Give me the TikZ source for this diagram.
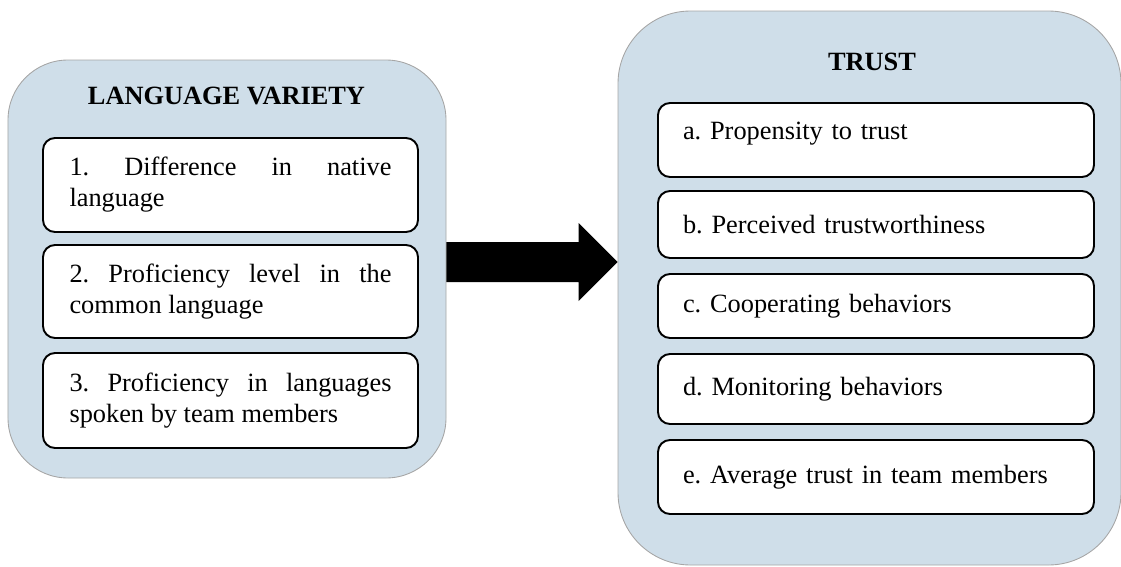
\documentclass[tikz,border=0pt]{standalone}
\usepackage{fontspec}
\setmainfont{Liberation Serif}
\usepackage{xcolor}
\usepackage{tikz}
\usetikzlibrary{calc}

\definecolor{panelblue}{RGB}{207,222,233}
\definecolor{panelline}{RGB}{166,166,166}

\hyphenpenalty=10000
\tolerance=9999
\frenchspacing

\begin{document}
\begin{tikzpicture}[
		panel/.style = {draw = panelline, line width = 0.5pt, fill = panelblue, rounded corners = 1.2cm},
		itembox/.style = {draw, line width = 1.1pt, fill = white, rounded corners = 0.24cm, inner sep = 0pt},
		listitem/.style = {itembox, minimum width = 7.5cm, text width = 6.44cm, inner xsep = 0.53cm, align = justify},
		trustitem/.style = {itembox, minimum width = 8.72cm, text width = 7.72cm, inner xsep = 0.5cm, align = left},
		heading/.style = {font = \fontsize{15}{17.6}\selectfont\bfseries}
	]
		\fontsize{15}{17.6}\selectfont
		\useasboundingbox (0,0) rectangle (22.42,-11.34);
		
		%panels
		\node [panel, minimum width = 8.76cm, minimum height = 8.36cm] (lang) at (4.54,-5.38) {};
		\node [panel, rounded corners = 1.45cm, minimum width = 10.06cm, minimum height = 11.08cm] (trust) at (17.39,-5.76) {};
		
		%headings
		\node [heading] (lang title) at (4.53,-1.92) {LANGUAGE VARIETY};
		\node [heading] (trust title) at (17.44,-1.24) {TRUST};
		
		%language variety items
		\node [listitem, minimum height = 1.88cm] (item 1) at (4.61,-3.70) {1. Difference in native language};
		\node [listitem, minimum height = 1.86cm] (item 2) at (4.61,-5.83) {2. Proficiency level in the common language};
		\node [listitem, minimum height = 1.90cm] (item 3) at (4.61,-8.01) {3. Proficiency in languages spoken by team members};
		
		%trust items
		\node [trustitem, minimum height = 1.48cm, text depth = 0.36cm] (item a) at (17.52,-2.80) {a. Propensity to trust};
		\node [trustitem, minimum height = 1.34cm] (item b) at (17.52,-4.49) {b. Perceived trustworthiness};
		\node [trustitem, minimum height = 1.28cm] (item c) at (17.52,-6.12) {c. Cooperating behaviors};
		\node [trustitem, minimum height = 1.40cm] (item d) at (17.52,-7.78) {d. Monitoring behaviors};
		\node [trustitem, minimum height = 1.48cm] (item e) at (17.52,-9.54) {e. Average trust in team members};
		
		%arrow
		\coordinate (arrow tail) at ($ (lang.east) + (0,0.14) $);
		\coordinate (arrow tip) at (trust.west |- arrow tail);
		\fill ($ (arrow tail) + (0,0.40) $) -- ($ (arrow tip) + (-0.78,0.40) $) -- ($ (arrow tip) + (-0.78,0.78) $)
			-- (arrow tip) -- ($ (arrow tip) + (-0.78,-0.78) $) -- ($ (arrow tip) + (-0.78,-0.40) $)
			-- ($ (arrow tail) + (0,-0.40) $) -- cycle;
	\end{tikzpicture}
\end{document}
